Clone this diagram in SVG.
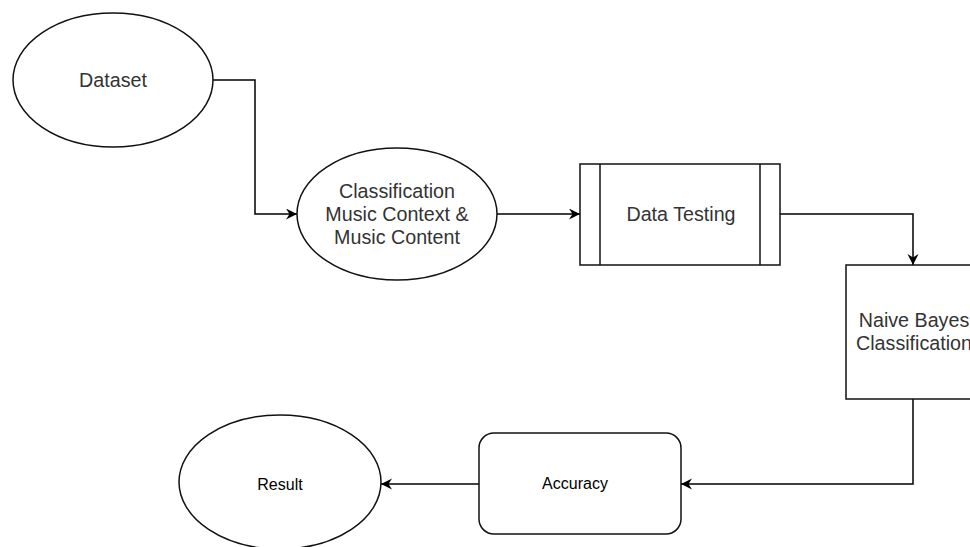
<svg xmlns="http://www.w3.org/2000/svg" width="970" height="547" viewBox="0 0 970 547">
<defs>
<marker id="arr" markerUnits="userSpaceOnUse" markerWidth="14" markerHeight="12" refX="11" refY="5.5" orient="auto">
<path d="M0,0 L11,5.5 L0,11 L3.5,5.5 Z" fill="#000"/>
</marker>
<style>
.shape{fill:#fff;stroke:#111;stroke-width:1.5}
.big{font-family:"Liberation Sans",Arial,sans-serif;font-size:19.7px;fill:#333;text-anchor:middle}
.small{font-family:"Liberation Sans",Arial,sans-serif;font-size:16px;fill:#000;text-anchor:middle}
.edge{fill:none;stroke:#000;stroke-width:1.5;marker-end:url(#arr)}
</style>
</defs>
<rect width="970" height="547" fill="#fff"/>
<g id="connectors">
<path class="edge" d="M213,80 H255 V214 H297"/>
<path class="edge" d="M497,214 H580"/>
<path class="edge" d="M780,214 H913 V265"/>
<path class="edge" d="M913,399 V484 H681"/>
<path class="edge" d="M479,484 H381"/>
</g>
<g id="dataset">
<ellipse class="shape" cx="113" cy="80" rx="100" ry="67"/>
<text class="big" x="113" y="87">Dataset</text>
</g>
<g id="classification">
<ellipse class="shape" cx="397" cy="214" rx="100" ry="66"/>
<text class="big" x="397" y="198">Classification</text>
<text class="big" x="397" y="221">Music Context &amp;</text>
<text class="big" x="397" y="244">Music Content</text>
</g>
<g id="data-testing">
<rect class="shape" x="580" y="164" width="200" height="101"/>
<line class="shape" x1="600" y1="164" x2="600" y2="265"/>
<line class="shape" x1="760" y1="164" x2="760" y2="265"/>
<text class="big" x="681" y="221">Data Testing</text>
</g>
<g id="naive-bayes">
<rect class="shape" x="846" y="265" width="134" height="134"/>
<text class="big" x="914" y="327">Naive Bayes</text>
<text class="big" x="914" y="350">Classification</text>
</g>
<g id="accuracy">
<rect class="shape" x="479" y="433" width="202" height="101" rx="15" ry="15"/>
<text class="small" x="575" y="489">Accuracy</text>
</g>
<g id="result">
<ellipse class="shape" cx="280" cy="482" rx="101" ry="67"/>
<text class="small" x="280" y="490">Result</text>
</g>
</svg>
